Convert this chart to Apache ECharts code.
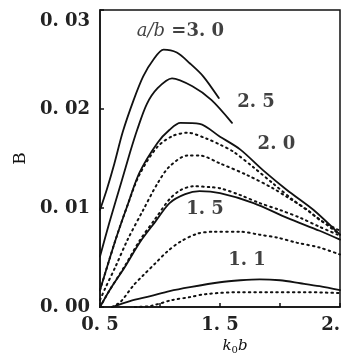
<!DOCTYPE html>
<html>
<head>
<meta charset="utf-8">
<script src="https://cdn.jsdelivr.net/npm/echarts@6/dist/echarts.min.js"></script>
<style>
  html, body { margin: 0; padding: 0; background: #fff; }
  #chart { width: 344px; height: 361px; }
</style>
</head>
<body>
<div id="chart"></div>
<script>
// 坐标轴刻度
const xLabelTicks = [0.5, 1.5, 2.5];
const yLabelTicks = [0, 0.01, 0.02, 0.03];

// 实线: a/b = 3.0, 2.5, 2.0, 1.5, 1.1   [k0b, B]
const solid30 = [[0.5, 0.0098], [0.56, 0.012], [0.62, 0.0145], [0.69, 0.0177], [0.78, 0.0209], [0.86, 0.0233], [0.94, 0.0249], [1.03, 0.026], [1.14, 0.0257], [1.25, 0.0246], [1.36, 0.0233], [1.49, 0.0211]];
const solid25 = [[0.5, 0.0051], [0.58, 0.0086], [0.68, 0.0127], [0.75, 0.0156], [0.81, 0.0179], [0.89, 0.0205], [0.98, 0.0221], [1.1, 0.0231], [1.27, 0.0223], [1.43, 0.0209], [1.6, 0.0186]];
const solid20 = [[0.5, 0.0017], [0.63, 0.0068], [0.73, 0.0103], [0.83, 0.0136], [0.98, 0.0166], [1.08, 0.0179], [1.17, 0.0186], [1.33, 0.0185], [1.5, 0.0172], [1.67, 0.0159], [1.86, 0.0138], [2.06, 0.0118], [2.28, 0.0098], [2.5, 0.0073]];
const solid15 = [[0.5, 0], [0.58, 0.0017], [0.71, 0.0041], [0.83, 0.0065], [0.96, 0.0086], [1.08, 0.0105], [1.21, 0.0114], [1.33, 0.0117], [1.5, 0.0115], [1.78, 0.0105], [2.06, 0.009], [2.33, 0.0077], [2.5, 0.0068]];
const solid11 = [[0.6, 0], [0.75, 0.0006], [0.92, 0.0011], [1.08, 0.0016], [1.25, 0.002], [1.5, 0.0025], [1.67, 0.0027], [1.83, 0.0028], [2.0, 0.0027], [2.17, 0.0024], [2.33, 0.0021], [2.5, 0.0017]];

// 点线
const dotted20a = [[0.5, 0.0017], [0.63, 0.0068], [0.73, 0.0103], [0.83, 0.0134], [0.98, 0.0162], [1.11, 0.0173], [1.23, 0.0176], [1.39, 0.017], [1.5, 0.0164], [1.61, 0.0157], [1.78, 0.0141], [1.94, 0.0125], [2.11, 0.0108], [2.28, 0.0093], [2.5, 0.0073]];
const dotted20b = [[0.5, 0.0007], [0.54, 0.0018], [0.63, 0.0041], [0.73, 0.0068], [0.86, 0.0098], [0.98, 0.0125], [1.08, 0.0142], [1.23, 0.0153], [1.33, 0.0153], [1.5, 0.0145], [1.73, 0.0133], [1.94, 0.012], [2.06, 0.0111], [2.23, 0.0098], [2.33, 0.0088], [2.5, 0.0077]];
const dotted15a = [[0.5, 0], [0.58, 0.0017], [0.71, 0.0042], [0.83, 0.0067], [0.96, 0.0089], [1.08, 0.0109], [1.17, 0.0118], [1.28, 0.0122], [1.42, 0.0121], [1.5, 0.012], [1.67, 0.0113], [1.83, 0.0105], [2.0, 0.0098], [2.17, 0.009], [2.33, 0.0081], [2.5, 0.0072]];
const dotted15b = [[0.6, 0], [0.67, 0.0005], [0.78, 0.0022], [0.86, 0.0032], [0.96, 0.0044], [1.06, 0.0056], [1.17, 0.0066], [1.31, 0.0074], [1.44, 0.0076], [1.67, 0.0076], [1.83, 0.0073], [1.98, 0.007], [2.14, 0.0065], [2.33, 0.006], [2.5, 0.0053]];
const dotted11 = [[0.79, 0], [0.92, 0.0001], [1.1, 0.0007], [1.25, 0.001], [1.38, 0.0013], [1.66, 0.0015], [1.93, 0.0015], [2.21, 0.0015], [2.5, 0.0014]];

// 曲线标注
const curveLabelTexts = ['{i|a/b} {n|=3. 0}', '2. 5', '2. 0', '1. 5', '1. 1'];
const curveLabelAnchors = [[1.17, 0.0278], [1.8, 0.0207], [1.97, 0.0164], [1.375, 0.0099], [1.725, 0.0047]];

const FONT = 'DejaVu Serif';
const INK = '#111';

const fmt = (v, digits) => v.toFixed(digits).replace('.', '. ');
const near = (a, b) => Math.abs(a - b) < 1e-9;

function lineSeries(data, dotted) {
  return {
    type: 'line',
    data,
    smooth: 0.3,
    symbol: 'none',
    silent: true,
    lineStyle: {
      color: INK,
      width: dotted ? 2 : 1.8,
      type: dotted ? [1.5, 4] : 'solid',
      cap: 'round'
    }
  };
}

const chart = echarts.init(document.getElementById('chart'));

chart.setOption({
  animation: false,
  grid: {
    left: 100, right: 4, top: 10, bottom: 54,
    outerBoundsMode: 'none',
    show: true,
    borderColor: INK,
    borderWidth: 1.5
  },
  xAxis: {
    type: 'value',
    min: 0.5, max: 2.5, interval: 0.5,
    name: '{i|k}{s|0}{i|b}',
    nameLocation: 'middle',
    nameGap: 30,
    nameTextStyle: {
      padding: [0, 0, 0, 30],
      rich: {
        i: { fontFamily: FONT, fontStyle: 'italic', fontSize: 15, color: INK },
        s: { fontFamily: FONT, fontSize: 10, color: INK, padding: [8, 0, 0, 0] }
      }
    },
    axisLine: { lineStyle: { color: INK, width: 1.5 } },
    axisTick: { inside: true, length: 4, lineStyle: { color: INK, width: 1.5 } },
    splitLine: { show: false },
    axisLabel: {
      margin: 9,
      fontFamily: FONT, fontSize: 18, fontWeight: 'bold', color: '#222',
      formatter: v => xLabelTicks.some(t => near(t, v)) ? fmt(v, 1) : ''
    }
  },
  yAxis: {
    type: 'value',
    min: 0, max: 0.03, interval: 0.01,
    name: 'B',
    nameLocation: 'middle',
    nameGap: 68,
    nameTextStyle: { fontFamily: FONT, fontSize: 17, color: INK },
    axisLine: { lineStyle: { color: INK, width: 1.5 } },
    axisTick: { inside: true, length: 4, lineStyle: { color: INK, width: 1.5 } },
    splitLine: { show: false },
    axisLabel: {
      margin: 10,
      fontFamily: FONT, fontSize: 18, fontWeight: 'bold', color: '#222',
      formatter: v => {
        if (!yLabelTicks.some(t => near(t, v))) return '';
        return near(v, 0.03) ? '{t|' + fmt(v, 2) + '}' : fmt(v, 2);
      },
      rich: {
        t: { fontFamily: FONT, fontSize: 18, fontWeight: 'bold', color: '#222', padding: [22, 0, 0, 0] }
      }
    }
  },
  series: [
    lineSeries(solid30, false),
    lineSeries(solid25, false),
    lineSeries(solid20, false),
    lineSeries(dotted20a, true),
    lineSeries(dotted20b, true),
    lineSeries(solid15, false),
    lineSeries(dotted15a, true),
    lineSeries(dotted15b, true),
    lineSeries(solid11, false),
    lineSeries(dotted11, true),
    {
      type: 'scatter',
      symbolSize: 0,
      silent: true,
      data: curveLabelAnchors.map((c, i) => ({ value: c, label: { formatter: curveLabelTexts[i] } })),
      label: {
        show: true,
        position: 'inside',
        fontFamily: FONT, fontSize: 18, fontWeight: 'bold', color: INK,
        rich: {
          i: { fontFamily: FONT, fontSize: 18, fontStyle: 'italic', fontWeight: 'normal', color: INK },
          n: { fontFamily: FONT, fontSize: 18, fontWeight: 'bold', color: INK }
        }
      }
    }
  ]
});
</script>
</body>
</html>
